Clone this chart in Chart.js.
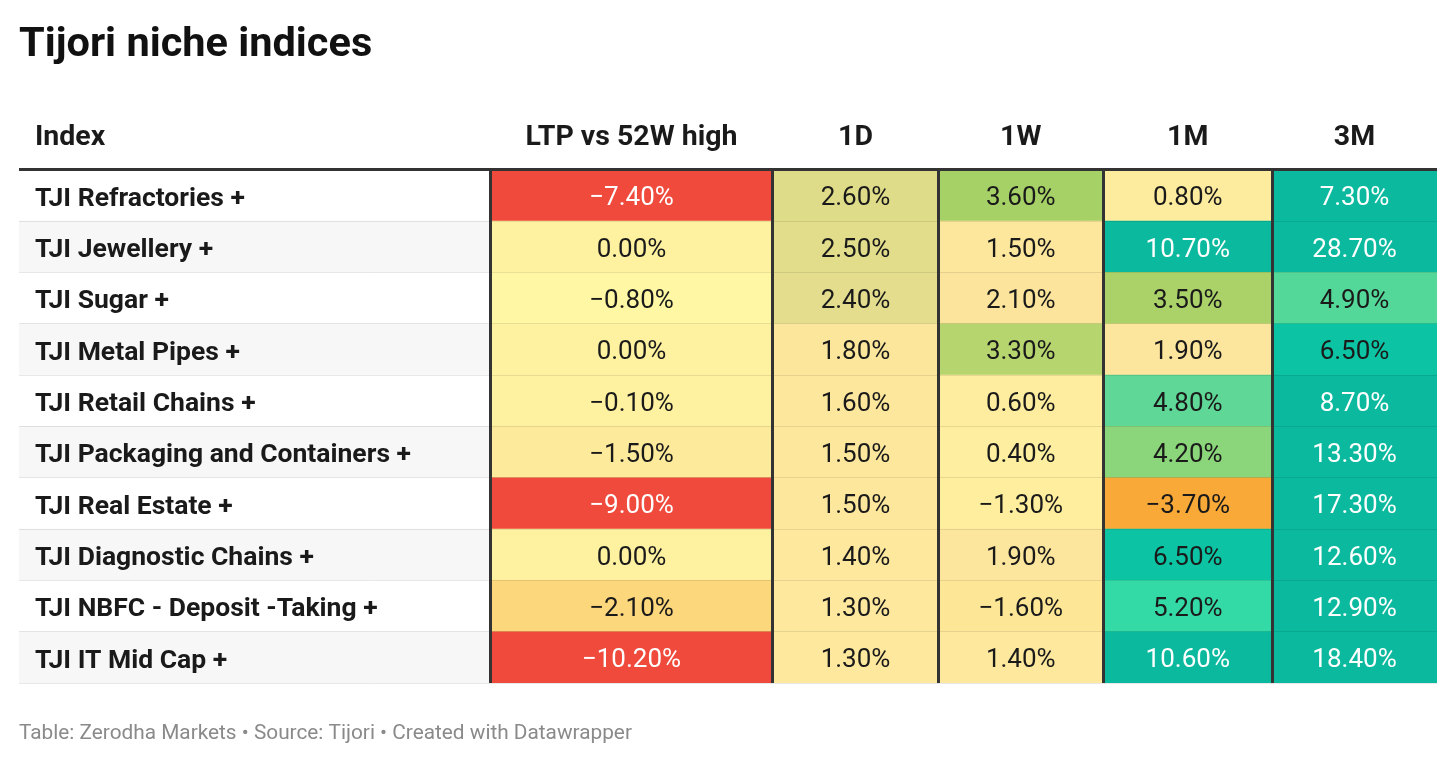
<!DOCTYPE html>
<html>
<head>
<meta charset="utf-8">
<title>Tijori niche indices</title>
<script src="https://cdn.jsdelivr.net/npm/chart.js@4.4.1/dist/chart.umd.min.js"></script>
<style>
  html, body { margin: 0; padding: 0; background: #fff; }
  canvas { display: block; }
</style>
</head>
<body>
<canvas id="table-chart" width="1456" height="766"></canvas>
<script>
// Table data
const indices = [
  'TJI Refractories +',
  'TJI Jewellery +',
  'TJI Sugar +',
  'TJI Metal Pipes +',
  'TJI Retail Chains +',
  'TJI Packaging and Containers +',
  'TJI Real Estate +',
  'TJI Diagnostic Chains +',
  'TJI NBFC - Deposit -Taking +',
  'TJI IT Mid Cap +'
];
const columnHeaders = ['Index', 'LTP vs 52W high', '1D', '1W', '1M', '3M'];
const ltpVs52wHigh = [-7.4, 0.0, -0.8, 0.0, -0.1, -1.5, -9.0, 0.0, -2.1, -10.2];
const change1D = [2.6, 2.5, 2.4, 1.8, 1.6, 1.5, 1.5, 1.4, 1.3, 1.3];
const change1W = [3.6, 1.5, 2.1, 3.3, 0.6, 0.4, -1.3, 1.9, -1.6, 1.4];
const change1M = [0.8, 10.7, 3.5, 1.9, 4.8, 4.2, -3.7, 6.5, 5.2, 10.6];
const change3M = [7.3, 28.7, 4.9, 6.5, 8.7, 13.3, 17.3, 12.6, 12.9, 18.4];

const valueColumns = [ltpVs52wHigh, change1D, change1W, change1M, change3M];

// Layout: relative column widths (index column first)
const colWidths = [471, 283, 165, 165.5, 168.5, 165];
const colEdges = colWidths.reduce((acc, w) => { acc.push(acc[acc.length - 1] + w); return acc; }, [0]);

// Colour scale (value -> colour)
const colorStops = [
  [-10.2, '#ef4a3c'], [-7.0, '#ef4a3c'], [-5.0, '#f4783a'], [-3.7, '#f9a937'],
  [-2.1, '#fdd77b'], [-1.5, '#fdea9b'], [-0.8, '#fff7a3'], [0, '#fef1a0'],
  [1.3, '#fde89d'], [2.1, '#fce49c'], [2.4, '#e3dd8d'], [2.6, '#dfdc89'],
  [3.3, '#b6d56f'], [3.6, '#a6d166'], [4.2, '#8bd57a'], [4.8, '#5fd796'],
  [5.2, '#34daa5'], [6.5, '#0cc4a3'], [7.3, '#0bba9e'], [30, '#0bba9e']
];

function hexToRgb(hex) {
  const n = parseInt(hex.slice(1), 16);
  return [(n >> 16) & 255, (n >> 8) & 255, n & 255];
}

function cellColor(v) {
  if (v <= colorStops[0][0]) return colorStops[0][1];
  for (let i = 1; i < colorStops.length; i++) {
    const [v1, c1] = colorStops[i];
    if (v <= v1) {
      const [v0, c0] = colorStops[i - 1];
      const t = (v - v0) / (v1 - v0);
      const a = hexToRgb(c0), b = hexToRgb(c1);
      const rgb = a.map((x, k) => Math.round(x + (b[k] - x) * t));
      return `rgb(${rgb.join(',')})`;
    }
  }
  return colorStops[colorStops.length - 1][1];
}

function textColor(v) {
  return (v <= -5 || v >= 7) ? '#ffffff' : '#1a1a1a';
}

function formatPct(v) {
  return v.toFixed(2).replace('-', '\u2212') + '%';
}

const FONT = 'Roboto, "Noto Sans", sans-serif';

// Datasets: index column background + one per value column
const datasets = [{
  label: columnHeaders[0],
  data: indices.map(() => [colEdges[0], colEdges[1]]),
  backgroundColor: (ctx) => ctx.dataIndex % 2 === 1 ? '#f7f7f7' : '#ffffff',
  borderWidth: 0
}];
valueColumns.forEach((values, c) => {
  datasets.push({
    label: columnHeaders[c + 1],
    data: indices.map(() => [colEdges[c + 1], colEdges[c + 2]]),
    values: values,
    backgroundColor: values.map(cellColor),
    borderWidth: 0
  });
});

const tableText = {
  id: 'tableText',
  afterDatasetsDraw(chart) {
    const ctx = chart.ctx;
    const x = chart.scales.x;
    ctx.save();

    // cell values
    ctx.font = `400 26px ${FONT}`;
    ctx.textAlign = 'center';
    ctx.textBaseline = 'middle';
    chart.data.datasets.forEach((ds, d) => {
      if (!ds.values) return;
      chart.getDatasetMeta(d).data.forEach((bar, i) => {
        const p = bar.getCenterPoint();
        ctx.fillStyle = textColor(ds.values[i]);
        ctx.fillText(formatPct(ds.values[i]), p.x, p.y + 3.5);
      });
    });

    // column headers
    const headerY = 138;
    ctx.font = `700 28.5px ${FONT}`;
    ctx.fillStyle = '#1a1a1a';
    ctx.textAlign = 'left';
    ctx.fillText(columnHeaders[0], chart.chartArea.left + 16, headerY);
    ctx.textAlign = 'center';
    for (let c = 1; c < columnHeaders.length; c++) {
      const cx = x.getPixelForValue((colEdges[c] + colEdges[c + 1]) / 2);
      ctx.fillText(columnHeaders[c], cx, headerY);
    }
    ctx.restore();
  }
};

new Chart(document.getElementById('table-chart'), {
  type: 'bar',
  data: { labels: indices, datasets: datasets },
  options: {
    indexAxis: 'y',
    responsive: false,
    animation: false,
    devicePixelRatio: 1,
    layout: { padding: { left: 19, right: 19, top: 0, bottom: 0 } },
    datasets: {
      bar: { grouped: false, categoryPercentage: 1, barPercentage: 1 }
    },
    scales: {
      x: {
        type: 'linear',
        position: 'top',
        min: colEdges[0],
        max: colEdges[colEdges.length - 1],
        afterBuildTicks: (scale) => {
          scale.ticks = colEdges.slice(1, -1).map(v => ({ value: v }));
        },
        ticks: { display: false },
        border: { display: false },
        grid: { z: 2, color: '#333333', lineWidth: 3, drawTicks: false }
      },
      y: {
        afterFit: (scale) => { scale.width = 0; },
        ticks: {
          z: 3,
          mirror: true,
          padding: 16,
          labelOffset: 3.5,
          color: '#1a1a1a',
          font: { family: FONT, size: 26.5, weight: '700' }
        },
        border: { display: false },
        grid: {
          z: 1,
          drawTicks: false,
          color: (ctx) => (ctx.index === 0 || ctx.index === indices.length) ? '#333333' : 'rgba(0,0,0,0.09)',
          lineWidth: (ctx) => (ctx.index === 0 || ctx.index === indices.length) ? 3 : 1
        }
      }
    },
    plugins: {
      legend: { display: false },
      tooltip: { enabled: false },
      title: {
        display: true,
        text: 'Tijori niche indices',
        align: 'start',
        color: '#111111',
        font: { family: FONT, size: 41.5, weight: '700', lineHeight: 1.2 },
        padding: { top: 21, bottom: 99 }
      },
      subtitle: {
        display: true,
        position: 'bottom',
        text: 'Table: Zerodha Markets \u2022 Source: Tijori \u2022 Created with Datawrapper',
        align: 'start',
        color: '#8a8a8a',
        font: { family: FONT, size: 20.8, weight: '400', lineHeight: 1.2 },
        padding: { top: 38, bottom: 20 }
      }
    }
  },
  plugins: [tableText]
});
</script>
</body>
</html>
